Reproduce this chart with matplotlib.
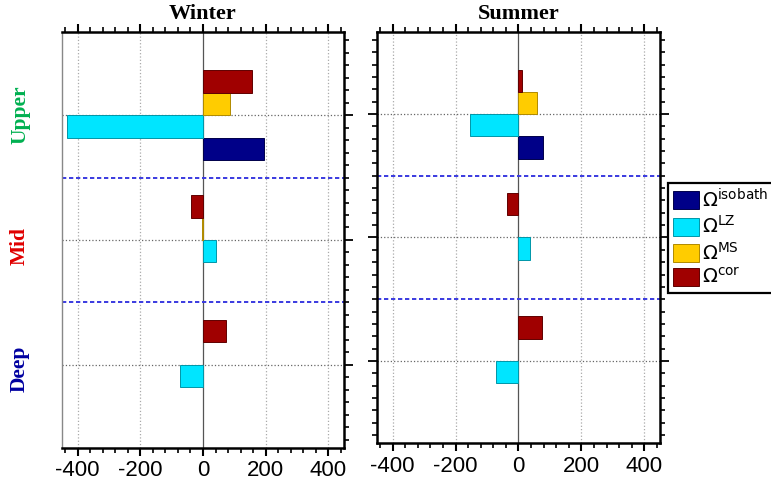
import numpy as np
import matplotlib
matplotlib.use('Agg')
import matplotlib.pyplot as plt
from matplotlib.patches import Patch
from matplotlib.ticker import MultipleLocator

plt.rcParams['axes.unicode_minus'] = False

# layers from bottom to top
layers = ['Deep', 'Mid', 'Upper']
layer_colors = ['#0000a0', '#e00000', '#00b050']
layer_pos = [0, 1, 2]

terms = ['isobath', 'LZ', 'MS', 'cor']
term_colors = ['#000088', '#00e5ff', '#ffcc00', '#a00000']
term_edges = ['#00004a', '#0096a8', '#b08a00', '#600000']

# values per layer (Deep, Mid, Upper)
winter_isobath = [0, 0, 194]
winter_lz = [-74, 41, -433]
winter_ms = [0, -4, 86]
winter_cor = [74, -38, 156]

summer_isobath = [0, 0, 77]
summer_lz = [-73, 38, -153]
summer_ms = [0, 0, 60]
summer_cor = [75, -37, 12]

seasons = ['Winter', 'Summer']
season_data = [
    [winter_isobath, winter_lz, winter_ms, winter_cor],
    [summer_isobath, summer_lz, summer_ms, summer_cor],
]

offsets = [-0.27, -0.09, 0.09, 0.27]
bar_h = 0.18

fig = plt.figure(figsize=(7.71, 4.84), dpi=100)
ax_w = fig.add_axes([0.0804, 0.0744, 0.3658, 0.8595])
ax_s = fig.add_axes([0.489, 0.0847, 0.367, 0.8492])
axes = [ax_w, ax_s]

for i, ax in enumerate(axes):
    y = np.array(layer_pos, dtype=float)
    for k in range(4):
        vals = np.array(season_data[i][k], dtype=float)
        m = vals != 0
        ax.barh(y[m] + offsets[k], vals[m], height=bar_h, color=term_colors[k],
                edgecolor=term_edges[k], linewidth=0.7, zorder=3)

    ax.set_xlim(-450, 450)
    ax.set_ylim(-0.665, 2.665)

    for gx in [-400, -200, 200, 400]:
        ax.axvline(gx, color='#aaaaaa', ls=':', lw=0.9, zorder=0)
    ax.axvline(0, color='#555555', ls='-', lw=0.9, zorder=1)
    for gy in layer_pos:
        ax.axhline(gy, color='#666666', ls=':', lw=0.9, zorder=0)
    for dy in [0.5, 1.5]:
        ax.axhline(dy, color='#3a3ae0', ls=(0, (2.2, 1.4)), lw=1.4, zorder=2)

    ax.xaxis.set_major_locator(MultipleLocator(200))
    ax.xaxis.set_minor_locator(MultipleLocator(40))
    ax.set_yticks(layer_pos)
    ax.set_yticklabels([])
    ax.yaxis.set_minor_locator(MultipleLocator(0.1))

    ax.tick_params(axis='x', which='both', direction='out', top=True, bottom=True,
                   labeltop=False)
    ax.tick_params(axis='x', which='major', length=6, width=1.5, pad=3,
                   labelsize=16)
    ax.tick_params(axis='x', which='minor', length=3.4, width=1.2)
    ax.tick_params(axis='y', which='both', direction='out', right=True,
                   left=(i == 1))
    ax.tick_params(axis='y', which='major', length=6.5, width=1.3)
    ax.tick_params(axis='y', which='minor', length=3.6, width=1.2)
    for lab in ax.get_xticklabels():
        lab.set_family('Liberation Sans')

    for side in ['top', 'right', 'bottom', 'left']:
        ax.spines[side].set_linewidth(1.8)
        ax.spines[side].set_color('black')
    ax.set_title(seasons[i], fontsize=16, fontweight='bold',
                 family='Liberation Serif', pad=9)

ax_w.spines['left'].set_color('#888888')
ax_w.spines['left'].set_linewidth(1.0)

# layer labels on the left
label_y = [369, 246, 115]
for name, col, yy in zip(layers, layer_colors, label_y):
    fig.text(20 / 771, 1 - yy / 484, name, rotation=90, color=col,
             fontsize=15.5, fontweight='bold', family='Liberation Serif',
             ha='center', va='center')

handles = [Patch(facecolor=c, edgecolor=e, linewidth=0.7)
           for c, e in zip(term_colors, term_edges)]
labels = [r'$\Omega^{\mathrm{' + t + '}}$' for t in terms]
leg = fig.legend(handles, labels, loc='upper left',
                 bbox_to_anchor=(668 / 771, 1 - 183 / 484), fontsize=14,
                 handlelength=1.35, handleheight=1.05, handletextpad=0.15,
                 labelspacing=0.22, borderpad=0.25, borderaxespad=0,
                 fancybox=False, framealpha=1)
leg.get_frame().set_edgecolor('black')
leg.get_frame().set_linewidth(1.6)

fig.savefig('out.png', dpi=100)
